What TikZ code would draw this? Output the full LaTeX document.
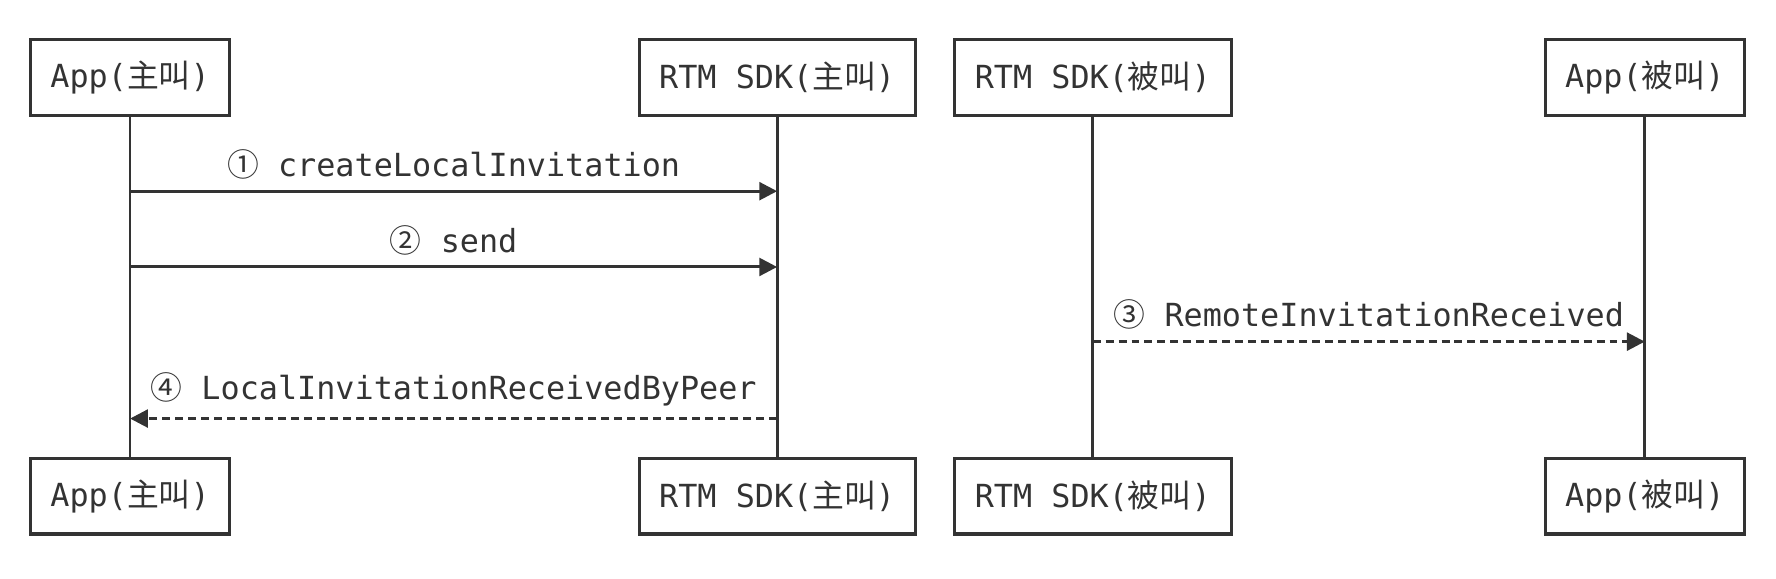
\documentclass[tikz,border=0pt]{standalone}
\usepackage{fontspec}
\setmainfont{DejaVu Sans Mono}
\newfontfamily\cjk{Noto Sans CJK SC}
\usetikzlibrary{arrows.meta}
\definecolor{ink}{HTML}{333333}
\tikzset{
    x=0.02cm, y=-0.02cm,
    every node/.style={text=ink, font=\fontsize{16}{18}\selectfont},
    actor/.style={draw=ink, line width=1.6pt, minimum height=1.34cm, inner sep=0pt},
    life/.style={draw=ink, line width=1.4pt},
    msg/.style={draw=ink, line width=1.5pt, -{Triangle[length=9pt,width=9pt]}},
    reply/.style={msg, dash pattern=on 4pt off 2.5pt}
}
\begin{document}
\begin{tikzpicture}
\useasboundingbox (0,0) rectangle (1570,511);
% actors, top and bottom
\foreach \n/\x/\w/\t in {a/115/176/App({\cjk 主叫}), b/687/244/RTM SDK({\cjk 主叫}), c/966/245/RTM SDK({\cjk 被叫}), d/1454/176/App({\cjk 被叫})} {
    \node[actor, minimum width=\w*0.02cm] (\n top) at (\x,68.5) {\t};
    \node[actor, minimum width=\w*0.02cm] (\n bot) at (\x,438.5) {\t};
    \draw[life] (\n top) -- (\n bot);
}
% messages
\coordinate (m1a) at (115,169); \coordinate (m1b) at (687,169);
\coordinate (m2a) at (115,236); \coordinate (m2b) at (687,236);
\coordinate (m3a) at (966,302); \coordinate (m3b) at (1454,302);
\coordinate (m4a) at (687,370); \coordinate (m4b) at (115,370);
\draw[msg] (m1a) -- node[above=2pt] {{\cjk ①} createLocalInvitation} (m1b);
\draw[msg] (m2a) -- node[above=2pt] {{\cjk ②} send} (m2b);
\draw[reply] (m3a) -- node[above=2pt] {{\cjk ③} RemoteInvitationReceived} (m3b);
\draw[reply] (m4a) -- node[above=2pt] {{\cjk ④} LocalInvitationReceivedByPeer} (m4b);
\end{tikzpicture}
\end{document}
